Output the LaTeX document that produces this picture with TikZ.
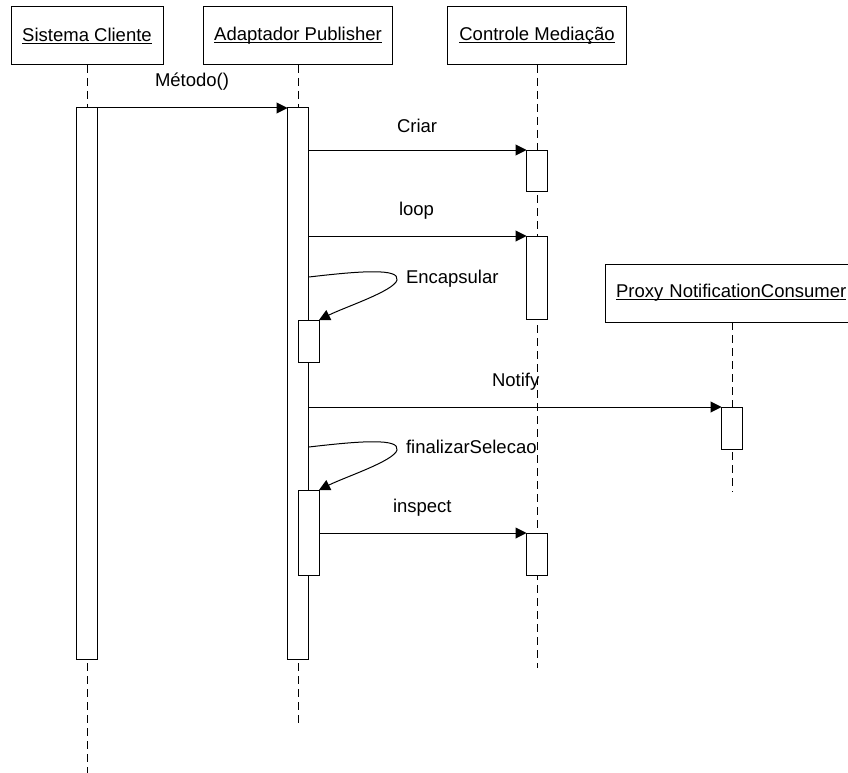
\documentclass[tikz,border=0pt]{standalone}
\usepackage{fontspec}
\setmainfont{Liberation Sans}
\usetikzlibrary{arrows.meta}
% underline at a fixed depth below the baseline
\newcommand\ulname[1]{\setbox0\hbox{#1}\rlap{\rule[-2.6pt]{\wd0}{1.1pt}}\box0}
\begin{document}
\begin{tikzpicture}[x=1pt, y=-1pt,
  lbl/.style={font=\fontsize{18.5}{22}\selectfont, inner sep=0pt, outer sep=0pt},
  obj/.style={draw, line width=1pt, fill=white, minimum height=58pt, inner sep=0pt, outer sep=0pt, font=\fontsize{18.5}{22}\selectfont},
  life/.style={line width=1pt, dash pattern=on 8pt off 5pt},
  bar/.style={draw, line width=1pt, fill=white, minimum width=21pt, inner sep=0pt, outer sep=0pt},
  msg/.style={line width=1pt, -{Triangle[length=11pt, width=11pt]}},
  msgtext/.style={lbl, anchor=base west}]
\useasboundingbox (0,0) rectangle (848,773);
\clip (0,0) rectangle (848,773);

% object headers
\node[obj, minimum width=152pt] (hSC) at (87,36) {\ulname{Sistema Cliente}};
\node[obj, minimum width=189pt] (hAP) at (298,36) {\ulname{Adaptador Publisher}};
\node[obj, minimum width=179pt] (hCM) at (537,36) {\ulname{Controle Mediação}};
\node[obj, minimum width=254pt, anchor=south west, align=left, text width=250pt] (hPN) at (605,322) {\hspace*{9pt}\ulname{Proxy NotificationConsumer}};

% lifeline ends
\coordinate (eSC) at (87,773);
\coordinate (eAP) at (298,727);
\coordinate (eCM) at (537,668);
\coordinate (ePN) at (732,492);

% lifelines
\draw[life] (hSC.south) -- (eSC);
\draw[life] (hAP.south) -- (eAP);
\draw[life] (hCM.south) -- (eCM);
\draw[life] (hPN.south -| ePN) -- (ePN);

% activation bars
\node[bar, minimum height=551pt] (scA) at (87,383.5) {};
\node[bar, minimum height=551pt] (apA) at (298,383.5) {};
\node[bar, minimum height=41pt] (cm1) at (537,170.5) {};
\node[bar, minimum height=83pt] (cm2) at (537,277.5) {};
\node[bar, minimum height=42pt] (enc) at (308.5,341) {};
\node[bar, minimum height=42pt] (pn1) at (732,428) {};
\node[bar, minimum height=85pt] (fin) at (308.5,532.5) {};
\node[bar, minimum height=42pt] (cm3) at (537,554) {};

% messages
\draw[msg] (scA.north east) -- (apA.north west);
\draw[msg] (apA.east |- cm1.north) -- (cm1.north west);
\draw[msg] (apA.east |- cm2.north) -- (cm2.north west);
\draw[msg] (apA.east |- pn1.north) -- (pn1.north west);
\draw[msg] (fin.east |- cm3.north) -- (cm3.north west);

% self calls
\coordinate (encStart) at (309,277);
\coordinate (finStart) at (309,447);
\draw[msg] (encStart) .. controls (360,271) and (400,268) .. (397,280)
  .. controls (394,291) and (345,307) .. (enc.north east);
\draw[msg] (finStart) .. controls (360,441) and (400,438) .. (397,450)
  .. controls (394,461) and (345,477) .. (fin.north east);

% message labels
\node[msgtext] (tMet) at (155,87) {Método()};
\node[msgtext] (tCri) at (397,132) {Criar};
\node[msgtext] (tLoop) at (399,215) {loop};
\node[msgtext] (tEnc) at (406,283) {Encapsular};
\node[msgtext] (tNot) at (492,386) {Notify};
\begin{scope}
  \clip (400,420) rectangle (537.5,470);
  \node[msgtext] (tFin) at (406,453) {finalizarSelecao};
\end{scope}
\node[msgtext] (tIns) at (393,512) {inspect};
\end{tikzpicture}
\end{document}
